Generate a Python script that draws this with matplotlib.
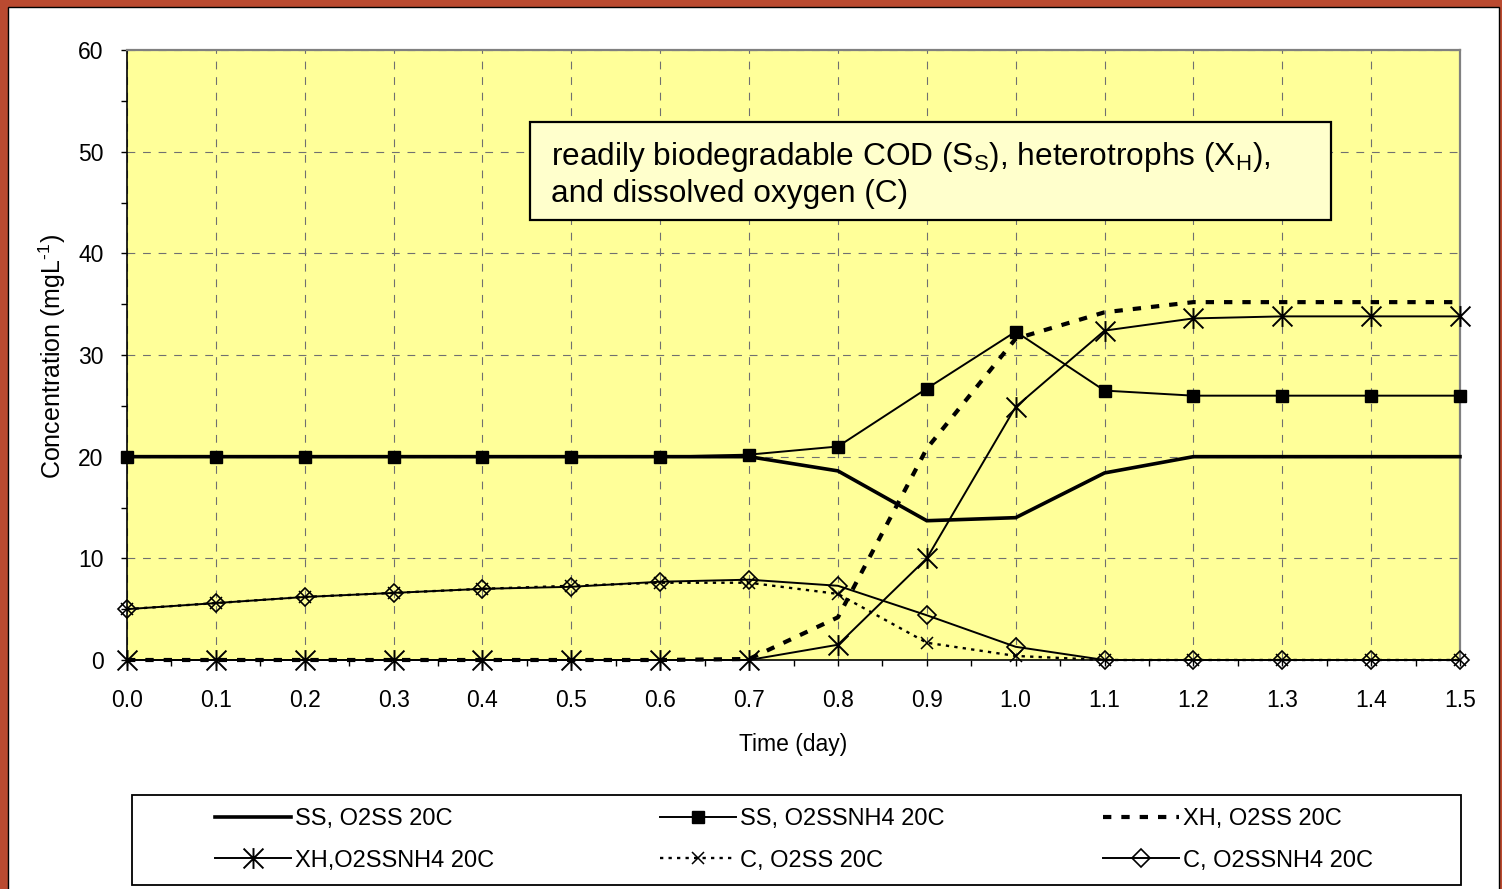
import matplotlib
matplotlib.use("Agg")
import matplotlib.pyplot as plt
from matplotlib.patches import Rectangle
from matplotlib.path import Path
from matplotlib.ticker import MultipleLocator, FormatStrFormatter

plt.rcParams['font.family'] = ['Liberation Sans', 'DejaVu Sans']
plt.rcParams['mathtext.fontset'] = 'custom'
plt.rcParams['mathtext.rm'] = 'Liberation Sans'
plt.rcParams['mathtext.it'] = 'Liberation Sans:italic'
plt.rcParams['mathtext.bf'] = 'Liberation Sans:bold'

# ---- data -------------------------------------------------------------
time_day = [0.0, 0.1, 0.2, 0.3, 0.4, 0.5, 0.6, 0.7, 0.8, 0.9, 1.0, 1.1, 1.2, 1.3, 1.4, 1.5]

ss_o2ss = [20.0, 20.0, 20.0, 20.0, 20.0, 20.0, 20.0, 20.0, 18.6, 13.7, 14.0, 18.4, 20.0, 20.0, 20.0, 20.0]
ss_o2ssnh4 = [20.0, 20.0, 20.0, 20.0, 20.0, 20.0, 20.0, 20.2, 21.0, 26.7, 32.3, 26.5, 26.0, 26.0, 26.0, 26.0]
xh_o2ss = [0.0, 0.0, 0.0, 0.0, 0.0, 0.0, 0.0, 0.1, 4.2, 20.8, 31.6, 34.2, 35.2, 35.2, 35.2, 35.2]
xh_o2ssnh4 = [0.0, 0.0, 0.0, 0.0, 0.0, 0.0, 0.0, 0.0, 1.5, 10.0, 24.9, 32.4, 33.6, 33.8, 33.8, 33.8]
c_o2ss = [5.0, 5.6, 6.2, 6.6, 7.0, 7.3, 7.6, 7.6, 6.5, 1.7, 0.4, 0.0, 0.0, 0.0, 0.0, 0.0]
c_o2ssnh4 = [5.0, 5.6, 6.2, 6.6, 7.0, 7.2, 7.7, 7.9, 7.3, 4.4, 1.3, 0.0, 0.0, 0.0, 0.0, 0.0]

series_labels = ["SS, O2SS 20C", "SS, O2SSNH4 20C", "XH, O2SS 20C",
                 "XH,O2SSNH4 20C", "C, O2SS 20C", "C, O2SSNH4 20C"]

x_ticks = [0.0, 0.1, 0.2, 0.3, 0.4, 0.5, 0.6, 0.7, 0.8, 0.9, 1.0, 1.1, 1.2, 1.3, 1.4, 1.5]
y_ticks = [0, 10, 20, 30, 40, 50, 60]

# ---- figure -----------------------------------------------------------
W, H = 1502, 889
fig = plt.figure(figsize=(W / 100, H / 100), dpi=100)

# framed page
fig.patches.append(Rectangle((0, 0), 1, 1, transform=fig.transFigure,
                             facecolor="#BA4A30", edgecolor="none", zorder=-20))
fig.patches.append(Rectangle((8 / W, -0.05), (1499 - 8) / W, 1.05 - 7 / H,
                             transform=fig.transFigure, facecolor="white",
                             edgecolor="black", linewidth=1.0, zorder=-19))

ax = fig.add_axes([127 / W, (H - 660) / H, (1460 - 127) / W, 610 / H])
ax.set_facecolor("#FFFF99")

# asterisk-style marker (X with a vertical bar)
star_path = Path([(-1, -1), (1, 1), (-1, 1), (1, -1), (0, -1.05), (0, 1.05)],
                 [Path.MOVETO, Path.LINETO, Path.MOVETO, Path.LINETO, Path.MOVETO, Path.LINETO])

common = dict(clip_on=False, zorder=4)
h1, = ax.plot(time_day, ss_o2ss, color="black", linewidth=2.6, solid_joinstyle="miter", **common)
h2, = ax.plot(time_day, ss_o2ssnh4, color="black", linewidth=1.4, marker="s",
              markersize=8, markerfacecolor="black", markeredgecolor="black", **common)
h3, = ax.plot(time_day, xh_o2ss, color="black", linewidth=3.0,
              linestyle=(0, (2.0, 2.4)), dash_capstyle="butt", **common)
h4, = ax.plot(time_day, xh_o2ssnh4, color="black", linewidth=1.4, marker=star_path,
              markersize=15, markeredgewidth=1.4, markerfacecolor="none",
              markeredgecolor="black", **common)
h5, = ax.plot(time_day, c_o2ss, color="black", linewidth=1.7,
              linestyle=(0, (1.4, 2.2)), marker="x", markersize=9, markeredgewidth=1.1,
              markeredgecolor="black", **common)
h6, = ax.plot(time_day, c_o2ssnh4, color="black", linewidth=1.4, marker="D",
              markersize=9, markeredgewidth=1.2, markerfacecolor="none",
              markeredgecolor="black", **common)

ax.set_xlim(0, 1.5)
ax.set_ylim(0, 60)
ax.set_xticks(x_ticks)
ax.set_yticks(y_ticks)
ax.xaxis.set_major_formatter(FormatStrFormatter("%.1f"))
ax.xaxis.set_minor_locator(MultipleLocator(0.05))
ax.yaxis.set_minor_locator(MultipleLocator(5))
ax.tick_params(axis="both", which="both", direction="out", length=4, width=1.0, colors="black")
ax.tick_params(axis="x", which="major", labelsize=16.5, pad=17)
ax.tick_params(axis="y", which="major", labelsize=16.5, pad=13)

ax.grid(True, which="major", color="#707070", linestyle=(0, (7, 7)), linewidth=0.8)
ax.set_axisbelow(True)

for side in ("left", "bottom"):
    ax.spines[side].set_color("black")
    ax.spines[side].set_linewidth(1.2)
for side in ("top", "right"):
    ax.spines[side].set_color("#808080")
    ax.spines[side].set_linewidth(1.6)

ax.set_xlabel("Time (day)", fontsize=16.5)
ax.xaxis.label.set_va("center")
ax.xaxis.set_label_coords(0.5, (660 - 745) / 610)
ax.set_ylabel(r"Concentration (mgL$^{\text{-1}}$)", fontsize=18)
ax.yaxis.label.set_va("center")
ax.yaxis.set_label_coords((52 - 127) / 1333, (660 - 357) / 610)

# title box inside the plot
ax.add_patch(Rectangle((403 / 1333, (660 - 220) / 610), (1331 - 530) / 1333, 98 / 610,
                       transform=ax.transAxes, facecolor="#FFFFCC", edgecolor="black",
                       linewidth=1.6, zorder=5, clip_on=False))
ax.text((551 - 127) / 1333, (660 - 165) / 610,
        r"readily biodegradable COD (S$_{\mathregular{S}}$), heterotrophs (X$_{\mathregular{H}}$),",
        transform=ax.transAxes, fontsize=22.8, va="baseline", ha="left", zorder=6)
ax.text((551 - 127) / 1333, (660 - 202) / 610, "and dissolved oxygen (C)",
        transform=ax.transAxes, fontsize=22.8, va="baseline", ha="left", zorder=6)

# legend frame and three legend columns
fig.patches.append(Rectangle((132 / W, (H - 885) / H), (1461 - 132) / W, 90 / H,
                             transform=fig.transFigure, facecolor="white",
                             edgecolor="black", linewidth=1.3, zorder=1))
handles = [h1, h2, h3, h4, h5, h6]
columns = [(0, 3, 215), (1, 4, 660), (2, 5, 1103)]
for i, j, xpx in columns:
    leg = fig.legend([handles[i], handles[j]], [series_labels[i], series_labels[j]],
                     loc="center left", bbox_to_anchor=(xpx / W, (H - 840) / H),
                     frameon=False, fontsize=17, borderpad=0, borderaxespad=0,
                     handlelength=3.2, handletextpad=0.2, labelspacing=0.82)
    leg.set_zorder(3)

fig.savefig("out.png", dpi=100)
